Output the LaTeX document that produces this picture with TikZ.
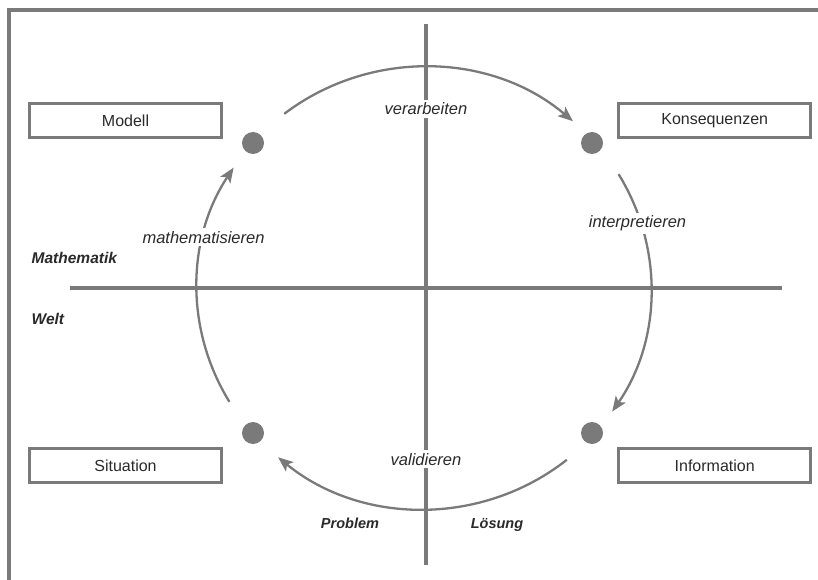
\documentclass[tikz,border=0pt]{standalone}
\usepackage{fontspec}
\setmainfont{Liberation Sans}
\usetikzlibrary{arrows.meta}
\definecolor{linegray}{HTML}{7A7A7A}
\definecolor{txt}{HTML}{2A2A2A}
\begin{document}
\begin{tikzpicture}[x=1pt,y=1pt,
  axisline/.style={draw=linegray, line width=3.1pt},
  cyc/.style={draw=linegray, line width=2.3pt, -{Stealth[length=15pt,width=12pt,inset=3.5pt]}},
  labelbox/.style={draw=linegray, line width=3pt, minimum width=192pt, minimum height=34pt, inner sep=0pt, text=txt, font=\fontsize{16}{19}\selectfont},
  bigdot/.style={circle, fill=linegray, minimum size=22pt, inner sep=0pt},
  verblabel/.style={fill=white, inner sep=3pt, text=txt, font=\fontsize{16.5}{19}\selectfont\itshape, anchor=base},
  domlabel/.style={inner sep=0pt, text=txt, font=\fontsize{15.5}{18}\selectfont\bfseries\itshape}]

\useasboundingbox (0,0) rectangle (818,579);
\fill[white] (0,0) rectangle (818,579);

% frame (cut at right and bottom)
\coordinate (fb) at (9,-5);
\coordinate (ftl) at (9,569);
\coordinate (fr) at (825,569);
\draw[line width=3.2pt, linegray] (fb) -- (ftl) -- (fr);

% axes
\coordinate (hl) at (70,291);
\coordinate (hr) at (782,291);
\coordinate (vt) at (426,555);
\coordinate (vb) at (426,14);
\draw[axisline] (hl) -- (hr);
\draw[axisline] (vt) -- (vb);

% cycle
\coordinate (c) at (424,291);
\coordinate (a1) at ([shift={(c)}]128:227pt and 221pt);
\coordinate (a2) at ([shift={(c)}]31:227pt and 221pt);
\coordinate (a3) at ([shift={(c)}]-51:227pt and 221pt);
\coordinate (a4) at ([shift={(c)}]211:227pt and 221pt);
\draw[cyc] (a1) arc[start angle=128, end angle=49, x radius=227pt, y radius=221pt];
\draw[cyc] (a2) arc[start angle=31, end angle=-34, x radius=227pt, y radius=221pt];
\draw[cyc] (a3) arc[start angle=-51, end angle=-130, x radius=227pt, y radius=221pt];
\draw[cyc] (a4) arc[start angle=211, end angle=147, x radius=227pt, y radius=221pt];

% dots
\node[bigdot] (dM) at (253,436) {};
\node[bigdot] (dK) at (592,436) {};
\node[bigdot] (dS) at (253,146) {};
\node[bigdot] (dI) at (592,146) {};

% boxes
\node[labelbox] (modell) at (125.5,458.5) {Modell};
\node[labelbox] (kons) at (714.7,458.5) {Konsequenzen};
\node[labelbox] (sit) at (125.5,113.5) {Situation};
\node[labelbox] (info) at (714.7,113.5) {Information};

% verbs
\node[verblabel] (verarb) at (426,464) {verarbeiten};
\node[verblabel] (interp) at (637.5,351) {interpretieren};
\node[verblabel] (mathem) at (203.5,336) {mathematisieren};
\node[verblabel] (valid) at (426,114) {validieren};

% domains
\node[domlabel, anchor=base west] (mathe) at (31.5,316) {Mathematik};
\node[domlabel, anchor=base west] (welt) at (31.5,255) {Welt};
\node[domlabel, anchor=base, font=\fontsize{14.5}{17}\selectfont\bfseries\itshape] (prob) at (350,51) {Problem};
\node[domlabel, anchor=base, font=\fontsize{14.5}{17}\selectfont\bfseries\itshape] (loes) at (497,51) {Lösung};
\end{tikzpicture}
\end{document}
